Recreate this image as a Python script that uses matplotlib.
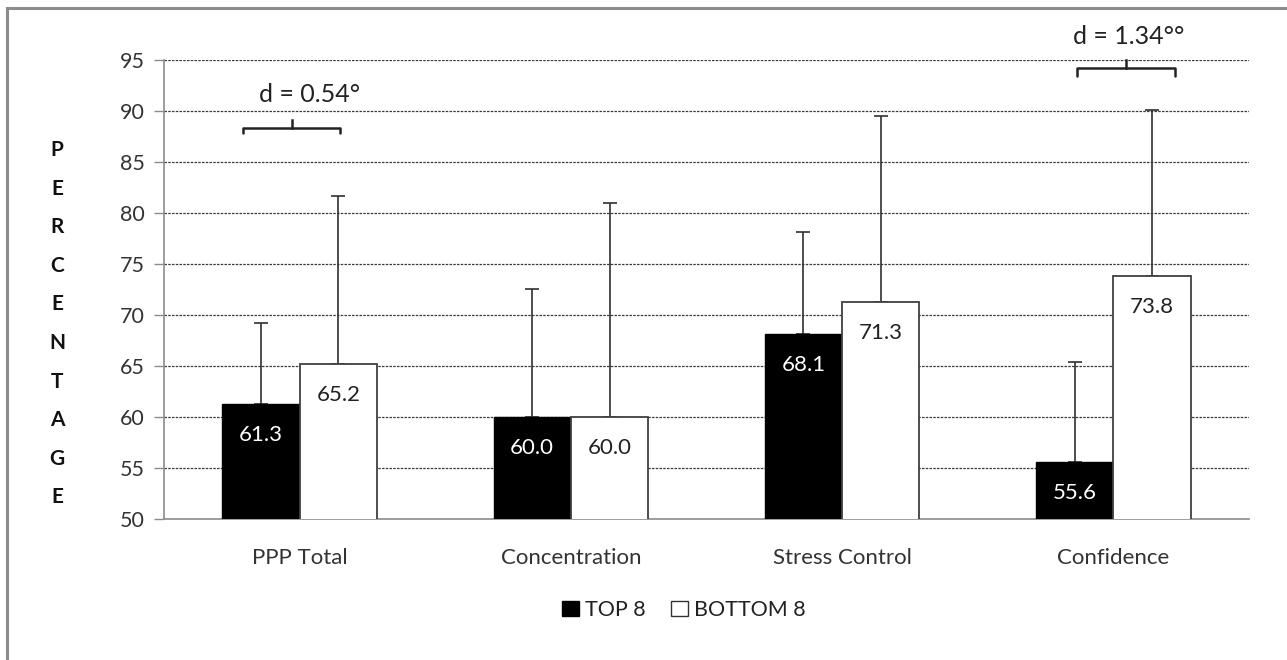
import matplotlib
matplotlib.use("Agg")
import matplotlib.pyplot as plt
import numpy as np
from matplotlib.patches import Patch, Rectangle
from matplotlib.lines import Line2D

categories = ["PPP Total", "Concentration", "Stress Control", "Confidence"]
top8 = [61.3, 60.0, 68.1, 55.6]
bottom8 = [65.2, 60.0, 71.3, 73.8]
top8_err = [7.9, 12.5, 10.0, 9.8]
bottom8_err = [16.5, 21.0, 18.2, 16.3]
series_names = ["TOP 8", "BOTTOM 8"]
yticks = [50, 55, 60, 65, 70, 75, 80, 85, 90, 95]
ylabel_letters = list("PERCENTAGE")
annot_texts = ["d = 0.54\u00b0", "d = 1.34\u00b0\u00b0"]

plt.rcParams['font.family'] = ['Lato', 'DejaVu Sans']

W, H = 1287, 660
fig = plt.figure(figsize=(W / 100, H / 100), dpi=100)
ax = fig.add_axes([164 / W, 1 - 519 / H, (1249 - 164) / W, (519 - 60) / H])

# outer border
fig.patches.append(Rectangle((7 / W, -0.1), 1.2, 1 - 8 / H + 0.1, transform=fig.transFigure,
                             fill=False, edgecolor='#8c8c8c', linewidth=2.2))

x = np.arange(len(categories))
bw = 0.285
ax.bar(x - bw / 2, top8, bw, color='black', edgecolor='black', linewidth=1, zorder=3)
ax.bar(x + bw / 2, bottom8, bw, color='white', edgecolor='#404040', linewidth=1.3, zorder=3)
ax.errorbar(x - bw / 2, top8, yerr=[np.zeros(4), top8_err], fmt='none', ecolor='#303030',
            elinewidth=1.2, capsize=5, capthick=1.2, zorder=2)
ax.errorbar(x + bw / 2, bottom8, yerr=[np.zeros(4), bottom8_err], fmt='none', ecolor='#303030',
            elinewidth=1.2, capsize=5, capthick=1.2, zorder=2)

for xi, v in zip(x - bw / 2, top8):
    ax.annotate(f"{v:.1f}", xy=(xi, v), xytext=(0, -31), textcoords='offset pixels',
                ha='center', va='center', color='white', fontsize=16, zorder=5)
for xi, v in zip(x + bw / 2, bottom8):
    ax.annotate(f"{v:.1f}", xy=(xi, v), xytext=(0, -31), textcoords='offset pixels',
                ha='center', va='center', color='#222222', fontsize=16, zorder=5)

ax.set_ylim(50, 95)
ax.set_xlim(-0.5, 3.5)
ax.set_yticks(yticks)
ax.set_yticklabels([str(t) for t in yticks], fontsize=15.5, color='#333333')
ax.set_xticks(x)
ax.set_xticklabels(categories, fontsize=16, color='#333333')
ax.tick_params(axis='x', length=0, pad=21)
ax.tick_params(axis='y', length=7, color='#8c8c8c', width=1, pad=7)
ax.yaxis.grid(True, linestyle=(0, (2, 1)), color='#3a3a3a', linewidth=0.9, zorder=0)
ax.set_axisbelow(True)
for s in ['top', 'right']:
    ax.spines[s].set_visible(False)
for s in ['left', 'bottom']:
    ax.spines[s].set_color('#8c8c8c')
    ax.spines[s].set_linewidth(1.2)

# y label stacked letters
for i, ch in enumerate(ylabel_letters):
    fig.text(57 / W, 1 - (150 + i * 38.6) / H, ch, ha='center', va='center',
             fontsize=15, fontweight='bold', color='#111111')

# brackets
def bracket(x0, x1, xc, yb, ye, yt):
    ax.add_line(Line2D([x0, x0, x1, x1], [ye, yb, yb, ye], color='#222222', lw=1.8,
                       clip_on=False, solid_joinstyle='round', solid_capstyle='round'))
    ax.add_line(Line2D([xc, xc], [yb, yt], color='#222222', lw=1.8, clip_on=False))

bracket(-0.209, 0.149, -0.028, 88.3, 87.8, 89.1)
ax.text(0.038, 91.6, annot_texts[0], ha='center', va='center', fontsize=18, color='#222222')
bracket(2.866, 3.227, 3.047, 94.2, 93.4, 95.0)
ax.text(3.058, 97.3, annot_texts[1], ha='center', va='center', fontsize=18, color='#222222',
        clip_on=False)

handles = [Patch(facecolor='black', edgecolor='black'),
           Patch(facecolor='white', edgecolor='#333333')]
fig.legend(handles, series_names, loc='center', bbox_to_anchor=(684 / W, 1 - 610 / H),
           ncol=2, frameon=False, fontsize=15.5, handlelength=0.75, handleheight=0.75,
           handletextpad=0.3, columnspacing=1.2, labelcolor='#222222')

fig.savefig("out.png", dpi=100)
